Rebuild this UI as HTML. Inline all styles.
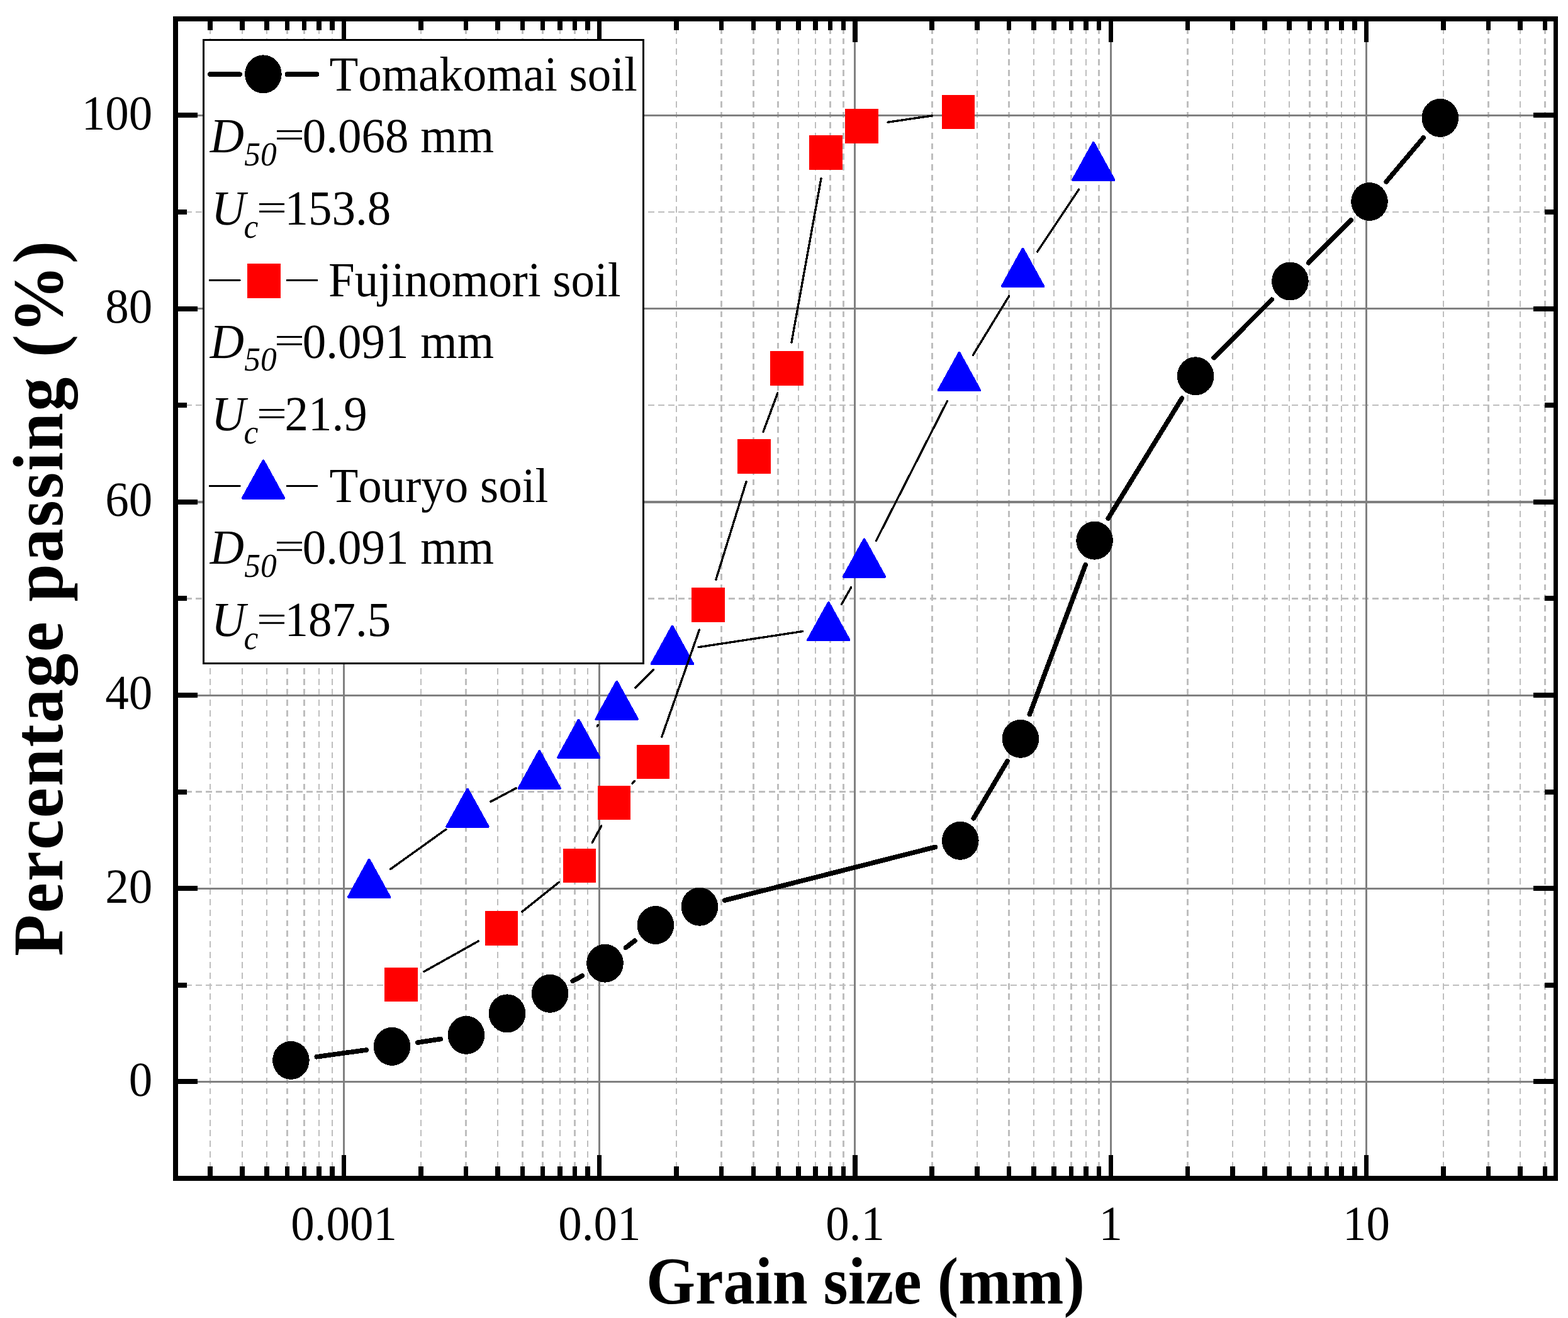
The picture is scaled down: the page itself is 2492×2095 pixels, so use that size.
<!DOCTYPE html>
<html lang="en">
<head>
<meta charset="utf-8">
<title>Grain size distribution</title>
<style>
html,body{margin:0;padding:0;background:#fff;}
body{width:2492px;height:2095px;overflow:hidden;}
svg{display:block;}
svg text{font-family:"Liberation Serif",serif;fill:#000;font-kerning:none;font-variant-ligatures:none;text-rendering:geometricPrecision;white-space:pre;}
</style>
</head>
<body>
<svg width="2492" height="2095" viewBox="0 0 2492 2095">
<rect width="2492" height="2095" fill="#fff"/>
<g id="grid-minor" fill="none" stroke="#bebebe" shape-rendering="crispEdges">
<line x1="334.08" y1="1873" x2="334.08" y2="30" stroke="#bebebe" stroke-width="2.5" stroke-dasharray="9.8 6.89"/>
<line x1="384.84" y1="1873" x2="384.84" y2="30" stroke="#bebebe" stroke-width="2.5" stroke-dasharray="9.8 6.89"/>
<line x1="424.21" y1="1873" x2="424.21" y2="30" stroke="#bebebe" stroke-width="2.5" stroke-dasharray="9.8 6.89"/>
<line x1="456.37" y1="1873" x2="456.37" y2="30" stroke="#bebebe" stroke-width="2.5" stroke-dasharray="9.8 6.89"/>
<line x1="483.57" y1="1873" x2="483.57" y2="30" stroke="#bebebe" stroke-width="2.5" stroke-dasharray="9.8 6.89"/>
<line x1="507.13" y1="1873" x2="507.13" y2="30" stroke="#bebebe" stroke-width="2.5" stroke-dasharray="9.8 6.89"/>
<line x1="527.91" y1="1873" x2="527.91" y2="30" stroke="#bebebe" stroke-width="2.5" stroke-dasharray="9.8 6.89"/>
<line x1="668.79" y1="1873" x2="668.79" y2="30" stroke="#bebebe" stroke-width="2.5" stroke-dasharray="9.8 6.89"/>
<line x1="740.33" y1="1873" x2="740.33" y2="30" stroke="#bebebe" stroke-width="2.5" stroke-dasharray="9.8 6.89"/>
<line x1="791.09" y1="1873" x2="791.09" y2="30" stroke="#bebebe" stroke-width="2.5" stroke-dasharray="9.8 6.89"/>
<line x1="830.46" y1="1873" x2="830.46" y2="30" stroke="#bebebe" stroke-width="2.5" stroke-dasharray="9.8 6.89"/>
<line x1="862.62" y1="1873" x2="862.62" y2="30" stroke="#bebebe" stroke-width="2.5" stroke-dasharray="9.8 6.89"/>
<line x1="889.82" y1="1873" x2="889.82" y2="30" stroke="#bebebe" stroke-width="2.5" stroke-dasharray="9.8 6.89"/>
<line x1="913.38" y1="1873" x2="913.38" y2="30" stroke="#bebebe" stroke-width="2.5" stroke-dasharray="9.8 6.89"/>
<line x1="934.16" y1="1873" x2="934.16" y2="30" stroke="#bebebe" stroke-width="2.5" stroke-dasharray="9.8 6.89"/>
<line x1="1075.04" y1="1873" x2="1075.04" y2="30" stroke="#bebebe" stroke-width="2.5" stroke-dasharray="9.8 6.89"/>
<line x1="1146.58" y1="1873" x2="1146.58" y2="30" stroke="#bebebe" stroke-width="2.5" stroke-dasharray="9.8 6.89"/>
<line x1="1197.34" y1="1873" x2="1197.34" y2="30" stroke="#bebebe" stroke-width="2.5" stroke-dasharray="9.8 6.89"/>
<line x1="1236.71" y1="1873" x2="1236.71" y2="30" stroke="#bebebe" stroke-width="2.5" stroke-dasharray="9.8 6.89"/>
<line x1="1268.87" y1="1873" x2="1268.87" y2="30" stroke="#bebebe" stroke-width="2.5" stroke-dasharray="9.8 6.89"/>
<line x1="1296.07" y1="1873" x2="1296.07" y2="30" stroke="#bebebe" stroke-width="2.5" stroke-dasharray="9.8 6.89"/>
<line x1="1319.63" y1="1873" x2="1319.63" y2="30" stroke="#bebebe" stroke-width="2.5" stroke-dasharray="9.8 6.89"/>
<line x1="1340.41" y1="1873" x2="1340.41" y2="30" stroke="#bebebe" stroke-width="2.5" stroke-dasharray="9.8 6.89"/>
<line x1="1481.29" y1="1873" x2="1481.29" y2="30" stroke="#bebebe" stroke-width="2.5" stroke-dasharray="9.8 6.89"/>
<line x1="1552.83" y1="1873" x2="1552.83" y2="30" stroke="#bebebe" stroke-width="2.5" stroke-dasharray="9.8 6.89"/>
<line x1="1603.59" y1="1873" x2="1603.59" y2="30" stroke="#bebebe" stroke-width="2.5" stroke-dasharray="9.8 6.89"/>
<line x1="1642.96" y1="1873" x2="1642.96" y2="30" stroke="#bebebe" stroke-width="2.5" stroke-dasharray="9.8 6.89"/>
<line x1="1675.12" y1="1873" x2="1675.12" y2="30" stroke="#bebebe" stroke-width="2.5" stroke-dasharray="9.8 6.89"/>
<line x1="1702.32" y1="1873" x2="1702.32" y2="30" stroke="#bebebe" stroke-width="2.5" stroke-dasharray="9.8 6.89"/>
<line x1="1725.88" y1="1873" x2="1725.88" y2="30" stroke="#bebebe" stroke-width="2.5" stroke-dasharray="9.8 6.89"/>
<line x1="1746.66" y1="1873" x2="1746.66" y2="30" stroke="#bebebe" stroke-width="2.5" stroke-dasharray="9.8 6.89"/>
<line x1="1887.54" y1="1873" x2="1887.54" y2="30" stroke="#bebebe" stroke-width="2.5" stroke-dasharray="9.8 6.89"/>
<line x1="1959.08" y1="1873" x2="1959.08" y2="30" stroke="#bebebe" stroke-width="2.5" stroke-dasharray="9.8 6.89"/>
<line x1="2009.84" y1="1873" x2="2009.84" y2="30" stroke="#bebebe" stroke-width="2.5" stroke-dasharray="9.8 6.89"/>
<line x1="2049.21" y1="1873" x2="2049.21" y2="30" stroke="#bebebe" stroke-width="2.5" stroke-dasharray="9.8 6.89"/>
<line x1="2081.37" y1="1873" x2="2081.37" y2="30" stroke="#bebebe" stroke-width="2.5" stroke-dasharray="9.8 6.89"/>
<line x1="2108.57" y1="1873" x2="2108.57" y2="30" stroke="#bebebe" stroke-width="2.5" stroke-dasharray="9.8 6.89"/>
<line x1="2132.13" y1="1873" x2="2132.13" y2="30" stroke="#bebebe" stroke-width="2.5" stroke-dasharray="9.8 6.89"/>
<line x1="2152.91" y1="1873" x2="2152.91" y2="30" stroke="#bebebe" stroke-width="2.5" stroke-dasharray="9.8 6.89"/>
<line x1="2293.79" y1="1873" x2="2293.79" y2="30" stroke="#bebebe" stroke-width="2.5" stroke-dasharray="9.8 6.89"/>
<line x1="2365.33" y1="1873" x2="2365.33" y2="30" stroke="#bebebe" stroke-width="2.5" stroke-dasharray="9.8 6.89"/>
<line x1="2416.09" y1="1873" x2="2416.09" y2="30" stroke="#bebebe" stroke-width="2.5" stroke-dasharray="9.8 6.89"/>
<line x1="2455.46" y1="1873" x2="2455.46" y2="30" stroke="#bebebe" stroke-width="2.5" stroke-dasharray="9.8 6.89"/>
<line x1="279" y1="1565.8" x2="2472.5" y2="1565.8" stroke="#bebebe" stroke-width="2.5" stroke-dasharray="10 5.986"/>
<line x1="279" y1="1258.6" x2="2472.5" y2="1258.6" stroke="#bebebe" stroke-width="2.5" stroke-dasharray="10 5.986"/>
<line x1="279" y1="951.4" x2="2472.5" y2="951.4" stroke="#bebebe" stroke-width="2.5" stroke-dasharray="10 5.986"/>
<line x1="279" y1="644.2" x2="2472.5" y2="644.2" stroke="#bebebe" stroke-width="2.5" stroke-dasharray="10 5.986"/>
<line x1="279" y1="337" x2="2472.5" y2="337" stroke="#bebebe" stroke-width="2.5" stroke-dasharray="10 5.986"/>
</g>
<g id="grid-major" fill="none" shape-rendering="crispEdges">
<rect x="545" y="30" width="3" height="1843" fill="#808080"/>
<rect x="951" y="30" width="3" height="1843" fill="#808080"/>
<rect x="1357" y="30" width="3" height="1843" fill="#808080"/>
<rect x="1764" y="30" width="3" height="1843" fill="#808080"/>
<rect x="2170" y="30" width="3" height="1843" fill="#808080"/>
<rect x="279" y="1718" width="2193.5" height="3" fill="#808080"/>
<rect x="279" y="1411" width="2193.5" height="3" fill="#808080"/>
<rect x="279" y="1104" width="2193.5" height="3" fill="#808080"/>
<rect x="279" y="796" width="2193.5" height="4" fill="#808080"/>
<rect x="279" y="489" width="2193.5" height="3" fill="#808080"/>
<rect x="279" y="182" width="2193.5" height="3" fill="#808080"/>
</g>
<g id="series-touryo" shape-rendering="crispEdges">
<line x1="620.74" y1="1381.43" x2="708.86" y2="1318.27" stroke="#000" stroke-width="3.4" stroke-linecap="round"/>
<line x1="780.1" y1="1274.11" x2="820.1" y2="1252.89" stroke="#000" stroke-width="3.4" stroke-linecap="round"/>
<line x1="949.25" y1="1154.06" x2="950.65" y2="1152.64" stroke="#000" stroke-width="3.4" stroke-linecap="round"/>
<line x1="1009.98" y1="1093.19" x2="1038.72" y2="1064.61" stroke="#000" stroke-width="3.4" stroke-linecap="round"/>
<line x1="1110.02" y1="1028.7" x2="1275.28" y2="1003.6" stroke="#000" stroke-width="3.4" stroke-linecap="round"/>
<line x1="1337.42" y1="960.71" x2="1352.88" y2="933.29" stroke="#000" stroke-width="3.4" stroke-linecap="round"/>
<line x1="1392.56" y1="859.27" x2="1505.44" y2="637.63" stroke="#000" stroke-width="3.4" stroke-linecap="round"/>
<line x1="1546.4" y1="564.36" x2="1603.6" y2="470.74" stroke="#000" stroke-width="3.4" stroke-linecap="round"/>
<line x1="1648.76" y1="399.93" x2="1714.54" y2="301.07" stroke="#000" stroke-width="3.4" stroke-linecap="round"/>
<polygon points="586.6,1366.68 553.91,1426 619.29,1426" fill="#0000ff" stroke="#0000ff" stroke-width="4" stroke-linejoin="round"/>
<polygon points="743,1254.58 710.31,1313.9 775.69,1313.9" fill="#0000ff" stroke="#0000ff" stroke-width="4" stroke-linejoin="round"/>
<polygon points="857.2,1193.98 824.51,1253.3 889.89,1253.3" fill="#0000ff" stroke="#0000ff" stroke-width="4" stroke-linejoin="round"/>
<polygon points="919.7,1144.68 887.01,1204 952.39,1204" fill="#0000ff" stroke="#0000ff" stroke-width="4" stroke-linejoin="round"/>
<polygon points="980.2,1083.58 947.51,1142.9 1012.89,1142.9" fill="#0000ff" stroke="#0000ff" stroke-width="4" stroke-linejoin="round"/>
<polygon points="1068.5,995.78 1035.81,1055.1 1101.19,1055.1" fill="#0000ff" stroke="#0000ff" stroke-width="4" stroke-linejoin="round"/>
<polygon points="1316.8,958.08 1284.11,1017.4 1349.49,1017.4" fill="#0000ff" stroke="#0000ff" stroke-width="4" stroke-linejoin="round"/>
<polygon points="1373.5,857.48 1340.81,916.8 1406.19,916.8" fill="#0000ff" stroke="#0000ff" stroke-width="4" stroke-linejoin="round"/>
<polygon points="1524.5,560.98 1491.81,620.3 1557.19,620.3" fill="#0000ff" stroke="#0000ff" stroke-width="4" stroke-linejoin="round"/>
<polygon points="1625.5,395.68 1592.81,455 1658.19,455" fill="#0000ff" stroke="#0000ff" stroke-width="4" stroke-linejoin="round"/>
<polygon points="1737.8,226.88 1705.11,286.2 1770.49,286.2" fill="#0000ff" stroke="#0000ff" stroke-width="4" stroke-linejoin="round"/>
</g>
<g id="series-fujinomori" shape-rendering="crispEdges">
<line x1="673.94" y1="1544.37" x2="760.36" y2="1495.93" stroke="#000" stroke-width="3.4" stroke-linecap="round"/>
<line x1="829.81" y1="1449.18" x2="888.29" y2="1402.42" stroke="#000" stroke-width="3.4" stroke-linecap="round"/>
<line x1="941.22" y1="1339.33" x2="955.78" y2="1312.67" stroke="#000" stroke-width="3.4" stroke-linecap="round"/>
<line x1="1004.89" y1="1245.41" x2="1008.81" y2="1241.29" stroke="#000" stroke-width="3.4" stroke-linecap="round"/>
<line x1="1051.71" y1="1171.27" x2="1111.49" y2="1001.03" stroke="#000" stroke-width="3.4" stroke-linecap="round"/>
<line x1="1137.83" y1="921.28" x2="1186.07" y2="765.52" stroke="#000" stroke-width="3.4" stroke-linecap="round"/>
<line x1="1213.12" y1="686.03" x2="1235.88" y2="624.77" stroke="#000" stroke-width="3.4" stroke-linecap="round"/>
<line x1="1257.97" y1="544.07" x2="1305.03" y2="283.63" stroke="#000" stroke-width="3.4" stroke-linecap="round"/>
<line x1="1411.06" y1="194.23" x2="1481.34" y2="183.97" stroke="#000" stroke-width="3.4" stroke-linecap="round"/>
<rect x="611" y="1537.7" width="52.6" height="54.4" fill="#ff0000"/>
<rect x="770.7" y="1448.2" width="52.6" height="54.4" fill="#ff0000"/>
<rect x="894.8" y="1349" width="52.6" height="54.4" fill="#ff0000"/>
<rect x="949.6" y="1248.6" width="52.6" height="54.4" fill="#ff0000"/>
<rect x="1011.5" y="1183.7" width="52.6" height="54.4" fill="#ff0000"/>
<rect x="1099.1" y="934.2" width="52.6" height="54.4" fill="#ff0000"/>
<rect x="1172.2" y="698.2" width="52.6" height="54.4" fill="#ff0000"/>
<rect x="1224.2" y="558.2" width="52.6" height="54.4" fill="#ff0000"/>
<rect x="1286.2" y="215.1" width="52.6" height="54.4" fill="#ff0000"/>
<rect x="1343.2" y="173.1" width="52.6" height="54.4" fill="#ff0000"/>
<rect x="1496.6" y="150.7" width="52.6" height="54.4" fill="#ff0000"/>
</g>
<g id="series-tomakomai" shape-rendering="crispEdges">
<line x1="503.32" y1="1679.79" x2="582.08" y2="1669.01" stroke="#000" stroke-width="7.6" stroke-linecap="round"/>
<line x1="663.82" y1="1657.14" x2="700.18" y2="1651.56" stroke="#000" stroke-width="7.6" stroke-linecap="round"/>
<line x1="910.28" y1="1559.39" x2="925.32" y2="1551.11" stroke="#000" stroke-width="7.6" stroke-linecap="round"/>
<line x1="994.46" y1="1506.32" x2="1008.94" y2="1495.38" stroke="#000" stroke-width="7.6" stroke-linecap="round"/>
<line x1="1151.94" y1="1431.07" x2="1486.26" y2="1346.43" stroke="#000" stroke-width="7.6" stroke-linecap="round"/>
<line x1="1547.29" y1="1300.73" x2="1600.91" y2="1209.87" stroke="#000" stroke-width="7.6" stroke-linecap="round"/>
<line x1="1636.35" y1="1135.61" x2="1725.15" y2="897.89" stroke="#000" stroke-width="7.6" stroke-linecap="round"/>
<line x1="1761.21" y1="824" x2="1878.49" y2="633" stroke="#000" stroke-width="7.6" stroke-linecap="round"/>
<line x1="1929.25" y1="568.55" x2="2021.25" y2="476.25" stroke="#000" stroke-width="7.6" stroke-linecap="round"/>
<line x1="2079.56" y1="417.75" x2="2147.34" y2="349.75" stroke="#000" stroke-width="7.6" stroke-linecap="round"/>
<line x1="2203.13" y1="288.93" x2="2262.17" y2="218.97" stroke="#000" stroke-width="7.6" stroke-linecap="round"/>
<ellipse cx="462.4" cy="1685.4" rx="29.3" ry="30.5" fill="#000000"/>
<ellipse cx="623" cy="1663.4" rx="29.3" ry="30.5" fill="#000000"/>
<ellipse cx="741" cy="1645.3" rx="29.3" ry="30.5" fill="#000000"/>
<ellipse cx="806" cy="1610.9" rx="29.3" ry="30.5" fill="#000000"/>
<ellipse cx="874.1" cy="1579.3" rx="29.3" ry="30.5" fill="#000000"/>
<ellipse cx="961.5" cy="1531.2" rx="29.3" ry="30.5" fill="#000000"/>
<ellipse cx="1041.9" cy="1470.5" rx="29.3" ry="30.5" fill="#000000"/>
<ellipse cx="1111.9" cy="1441.2" rx="29.3" ry="30.5" fill="#000000"/>
<ellipse cx="1526.3" cy="1336.3" rx="29.3" ry="30.5" fill="#000000"/>
<ellipse cx="1621.9" cy="1174.3" rx="29.3" ry="30.5" fill="#000000"/>
<ellipse cx="1739.6" cy="859.2" rx="29.3" ry="30.5" fill="#000000"/>
<ellipse cx="1900.1" cy="597.8" rx="29.3" ry="30.5" fill="#000000"/>
<ellipse cx="2050.4" cy="447" rx="29.3" ry="30.5" fill="#000000"/>
<ellipse cx="2176.5" cy="320.5" rx="29.3" ry="30.5" fill="#000000"/>
<ellipse cx="2288.8" cy="187.4" rx="29.3" ry="30.5" fill="#000000"/>
</g>
<g id="ticks" fill="#000" shape-rendering="crispEdges">
<rect x="330.28" y="1854" width="7.6" height="18" fill="#000"/>
<rect x="330.28" y="31" width="7.6" height="17" fill="#000"/>
<rect x="381.04" y="1854" width="7.6" height="18" fill="#000"/>
<rect x="381.04" y="31" width="7.6" height="17" fill="#000"/>
<rect x="420.41" y="1854" width="7.6" height="18" fill="#000"/>
<rect x="420.41" y="31" width="7.6" height="17" fill="#000"/>
<rect x="452.57" y="1854" width="7.6" height="18" fill="#000"/>
<rect x="452.57" y="31" width="7.6" height="17" fill="#000"/>
<rect x="479.77" y="1854" width="7.6" height="18" fill="#000"/>
<rect x="479.77" y="31" width="7.6" height="17" fill="#000"/>
<rect x="503.33" y="1854" width="7.6" height="18" fill="#000"/>
<rect x="503.33" y="31" width="7.6" height="17" fill="#000"/>
<rect x="524.11" y="1854" width="7.6" height="18" fill="#000"/>
<rect x="524.11" y="31" width="7.6" height="17" fill="#000"/>
<rect x="664.99" y="1854" width="7.6" height="18" fill="#000"/>
<rect x="664.99" y="31" width="7.6" height="17" fill="#000"/>
<rect x="736.53" y="1854" width="7.6" height="18" fill="#000"/>
<rect x="736.53" y="31" width="7.6" height="17" fill="#000"/>
<rect x="787.29" y="1854" width="7.6" height="18" fill="#000"/>
<rect x="787.29" y="31" width="7.6" height="17" fill="#000"/>
<rect x="826.66" y="1854" width="7.6" height="18" fill="#000"/>
<rect x="826.66" y="31" width="7.6" height="17" fill="#000"/>
<rect x="858.82" y="1854" width="7.6" height="18" fill="#000"/>
<rect x="858.82" y="31" width="7.6" height="17" fill="#000"/>
<rect x="886.02" y="1854" width="7.6" height="18" fill="#000"/>
<rect x="886.02" y="31" width="7.6" height="17" fill="#000"/>
<rect x="909.58" y="1854" width="7.6" height="18" fill="#000"/>
<rect x="909.58" y="31" width="7.6" height="17" fill="#000"/>
<rect x="930.36" y="1854" width="7.6" height="18" fill="#000"/>
<rect x="930.36" y="31" width="7.6" height="17" fill="#000"/>
<rect x="1071.24" y="1854" width="7.6" height="18" fill="#000"/>
<rect x="1071.24" y="31" width="7.6" height="17" fill="#000"/>
<rect x="1142.78" y="1854" width="7.6" height="18" fill="#000"/>
<rect x="1142.78" y="31" width="7.6" height="17" fill="#000"/>
<rect x="1193.54" y="1854" width="7.6" height="18" fill="#000"/>
<rect x="1193.54" y="31" width="7.6" height="17" fill="#000"/>
<rect x="1232.91" y="1854" width="7.6" height="18" fill="#000"/>
<rect x="1232.91" y="31" width="7.6" height="17" fill="#000"/>
<rect x="1265.07" y="1854" width="7.6" height="18" fill="#000"/>
<rect x="1265.07" y="31" width="7.6" height="17" fill="#000"/>
<rect x="1292.27" y="1854" width="7.6" height="18" fill="#000"/>
<rect x="1292.27" y="31" width="7.6" height="17" fill="#000"/>
<rect x="1315.83" y="1854" width="7.6" height="18" fill="#000"/>
<rect x="1315.83" y="31" width="7.6" height="17" fill="#000"/>
<rect x="1336.61" y="1854" width="7.6" height="18" fill="#000"/>
<rect x="1336.61" y="31" width="7.6" height="17" fill="#000"/>
<rect x="1477.49" y="1854" width="7.6" height="18" fill="#000"/>
<rect x="1477.49" y="31" width="7.6" height="17" fill="#000"/>
<rect x="1549.03" y="1854" width="7.6" height="18" fill="#000"/>
<rect x="1549.03" y="31" width="7.6" height="17" fill="#000"/>
<rect x="1599.79" y="1854" width="7.6" height="18" fill="#000"/>
<rect x="1599.79" y="31" width="7.6" height="17" fill="#000"/>
<rect x="1639.16" y="1854" width="7.6" height="18" fill="#000"/>
<rect x="1639.16" y="31" width="7.6" height="17" fill="#000"/>
<rect x="1671.32" y="1854" width="7.6" height="18" fill="#000"/>
<rect x="1671.32" y="31" width="7.6" height="17" fill="#000"/>
<rect x="1698.52" y="1854" width="7.6" height="18" fill="#000"/>
<rect x="1698.52" y="31" width="7.6" height="17" fill="#000"/>
<rect x="1722.08" y="1854" width="7.6" height="18" fill="#000"/>
<rect x="1722.08" y="31" width="7.6" height="17" fill="#000"/>
<rect x="1742.86" y="1854" width="7.6" height="18" fill="#000"/>
<rect x="1742.86" y="31" width="7.6" height="17" fill="#000"/>
<rect x="1883.74" y="1854" width="7.6" height="18" fill="#000"/>
<rect x="1883.74" y="31" width="7.6" height="17" fill="#000"/>
<rect x="1955.28" y="1854" width="7.6" height="18" fill="#000"/>
<rect x="1955.28" y="31" width="7.6" height="17" fill="#000"/>
<rect x="2006.04" y="1854" width="7.6" height="18" fill="#000"/>
<rect x="2006.04" y="31" width="7.6" height="17" fill="#000"/>
<rect x="2045.41" y="1854" width="7.6" height="18" fill="#000"/>
<rect x="2045.41" y="31" width="7.6" height="17" fill="#000"/>
<rect x="2077.57" y="1854" width="7.6" height="18" fill="#000"/>
<rect x="2077.57" y="31" width="7.6" height="17" fill="#000"/>
<rect x="2104.77" y="1854" width="7.6" height="18" fill="#000"/>
<rect x="2104.77" y="31" width="7.6" height="17" fill="#000"/>
<rect x="2128.33" y="1854" width="7.6" height="18" fill="#000"/>
<rect x="2128.33" y="31" width="7.6" height="17" fill="#000"/>
<rect x="2149.11" y="1854" width="7.6" height="18" fill="#000"/>
<rect x="2149.11" y="31" width="7.6" height="17" fill="#000"/>
<rect x="2289.99" y="1854" width="7.6" height="18" fill="#000"/>
<rect x="2289.99" y="31" width="7.6" height="17" fill="#000"/>
<rect x="2361.53" y="1854" width="7.6" height="18" fill="#000"/>
<rect x="2361.53" y="31" width="7.6" height="17" fill="#000"/>
<rect x="2412.29" y="1854" width="7.6" height="18" fill="#000"/>
<rect x="2412.29" y="31" width="7.6" height="17" fill="#000"/>
<rect x="2451.66" y="1854" width="7.6" height="18" fill="#000"/>
<rect x="2451.66" y="31" width="7.6" height="17" fill="#000"/>
<rect x="543" y="1836" width="7" height="36" fill="#000"/>
<rect x="543" y="31" width="7" height="36" fill="#000"/>
<rect x="949" y="1836" width="7" height="36" fill="#000"/>
<rect x="949" y="31" width="7" height="36" fill="#000"/>
<rect x="1355" y="1836" width="8" height="36" fill="#000"/>
<rect x="1355" y="31" width="8" height="36" fill="#000"/>
<rect x="1762" y="1836" width="7" height="36" fill="#000"/>
<rect x="1762" y="31" width="7" height="36" fill="#000"/>
<rect x="2168" y="1836" width="7" height="36" fill="#000"/>
<rect x="2168" y="31" width="7" height="36" fill="#000"/>
<rect x="280" y="1561.8" width="17" height="8" fill="#000"/>
<rect x="2454.5" y="1561.8" width="17" height="8" fill="#000"/>
<rect x="280" y="1254.6" width="17" height="8" fill="#000"/>
<rect x="2454.5" y="1254.6" width="17" height="8" fill="#000"/>
<rect x="280" y="947.4" width="17" height="8" fill="#000"/>
<rect x="2454.5" y="947.4" width="17" height="8" fill="#000"/>
<rect x="280" y="640.2" width="17" height="8" fill="#000"/>
<rect x="2454.5" y="640.2" width="17" height="8" fill="#000"/>
<rect x="280" y="333" width="17" height="8" fill="#000"/>
<rect x="2454.5" y="333" width="17" height="8" fill="#000"/>
<rect x="280" y="1715" width="34" height="8" fill="#000"/>
<rect x="2437" y="1715" width="34" height="8" fill="#000"/>
<rect x="280" y="1408" width="34" height="8" fill="#000"/>
<rect x="2437" y="1408" width="34" height="8" fill="#000"/>
<rect x="280" y="1101" width="34" height="8" fill="#000"/>
<rect x="2437" y="1101" width="34" height="8" fill="#000"/>
<rect x="280" y="794" width="34" height="8" fill="#000"/>
<rect x="2437" y="794" width="34" height="8" fill="#000"/>
<rect x="280" y="487" width="34" height="8" fill="#000"/>
<rect x="2437" y="487" width="34" height="8" fill="#000"/>
<rect x="280" y="179" width="34" height="8" fill="#000"/>
<rect x="2437" y="179" width="34" height="8" fill="#000"/>
</g>
<path id="frame" shape-rendering="crispEdges" d="M275 26H2476V1877H275Z M283 34V1869H2469V34Z" fill="#000" fill-rule="evenodd"/>
<g id="legend" shape-rendering="crispEdges">
<rect x="323.5" y="63.5" width="699" height="991" fill="#fff" stroke="#000" stroke-width="3"/>
<line x1="333.7" y1="118.1" x2="381" y2="118.1" stroke="#000" stroke-width="7.6" stroke-linecap="round"/>
<line x1="456.3" y1="118.1" x2="503.5" y2="118.1" stroke="#000" stroke-width="7.6" stroke-linecap="round"/>
<ellipse cx="418.4" cy="117.9" rx="29.3" ry="30.5" fill="#000000"/>
<text transform="translate(523.4 144.1) scale(1 1.04)" font-size="75">Tomakomai soil</text>
<text transform="translate(0 241.8) scale(1 1.04)" font-size="75"><tspan x="333.85" font-style="italic">D</tspan><tspan x="388.2" dy="19.9" font-style="italic" font-size="51.5">50</tspan><tspan x="435.8" dy="-27.02" font-size="56.97" textLength="48.47" lengthAdjust="spacingAndGlyphs">=</tspan><tspan x="480.8" dy="7.12">0.068 mm</tspan></text>
<text transform="translate(0 357.3) scale(1 1.04)" font-size="75"><tspan x="335.9" font-style="italic">U</tspan><tspan x="387.4" dy="19.9" font-style="italic" font-size="51.5">c</tspan><tspan x="407.8" dy="-27.02" font-size="56.97" textLength="48.47" lengthAdjust="spacingAndGlyphs">=</tspan><tspan x="452.5" dy="7.12">153.8</tspan></text>
<line x1="333.7" y1="445.5" x2="381" y2="445.5" stroke="#000" stroke-width="3.4" stroke-linecap="round"/>
<line x1="456.3" y1="445.5" x2="503.5" y2="445.5" stroke="#000" stroke-width="3.4" stroke-linecap="round"/>
<rect x="393.2" y="419.2" width="52.6" height="54.4" fill="#ff0000"/>
<text transform="translate(522 471.1) scale(1 1.04)" font-size="75">Fujinomori soil</text>
<text transform="translate(0 568.6) scale(1 1.04)" font-size="75"><tspan x="333.85" font-style="italic">D</tspan><tspan x="388.2" dy="19.9" font-style="italic" font-size="51.5">50</tspan><tspan x="435.8" dy="-27.02" font-size="56.97" textLength="48.47" lengthAdjust="spacingAndGlyphs">=</tspan><tspan x="480.8" dy="7.12">0.091 mm</tspan></text>
<text transform="translate(0 684.3) scale(1 1.04)" font-size="75"><tspan x="335.9" font-style="italic">U</tspan><tspan x="387.4" dy="19.9" font-style="italic" font-size="51.5">c</tspan><tspan x="407.8" dy="-27.02" font-size="56.97" textLength="48.47" lengthAdjust="spacingAndGlyphs">=</tspan><tspan x="452.5" dy="7.12">21.9</tspan></text>
<line x1="333.7" y1="772.5" x2="381" y2="772.5" stroke="#000" stroke-width="3.4" stroke-linecap="round"/>
<line x1="456.3" y1="772.5" x2="503.5" y2="772.5" stroke="#000" stroke-width="3.4" stroke-linecap="round"/>
<polygon points="418.5,732.48 385.81,791.8 451.19,791.8" fill="#0000ff" stroke="#0000ff" stroke-width="4" stroke-linejoin="round"/>
<text transform="translate(523.4 798.1) scale(1 1.04)" font-size="75">Touryo soil</text>
<text transform="translate(0 895.8) scale(1 1.04)" font-size="75"><tspan x="333.85" font-style="italic">D</tspan><tspan x="388.2" dy="19.9" font-style="italic" font-size="51.5">50</tspan><tspan x="435.8" dy="-27.02" font-size="56.97" textLength="48.47" lengthAdjust="spacingAndGlyphs">=</tspan><tspan x="480.8" dy="7.12">0.091 mm</tspan></text>
<text transform="translate(0 1011.3) scale(1 1.04)" font-size="75"><tspan x="335.9" font-style="italic">U</tspan><tspan x="387.4" dy="19.9" font-style="italic" font-size="51.5">c</tspan><tspan x="407.8" dy="-27.02" font-size="56.97" textLength="48.47" lengthAdjust="spacingAndGlyphs">=</tspan><tspan x="452.5" dy="7.12">187.5</tspan></text>
</g>
<g id="xticklabels" text-anchor="middle">
<text transform="translate(546.5 1971.3) scale(1 1.04)" font-size="75">0.001</text>
<text transform="translate(952.75 1971.3) scale(1 1.04)" font-size="75">0.01</text>
<text transform="translate(1359 1971.3) scale(1 1.04)" font-size="75">0.1</text>
<text transform="translate(1765.25 1971.3) scale(1 1.04)" font-size="75">1</text>
<text transform="translate(2171.5 1971.3) scale(1 1.04)" font-size="75">10</text>
</g>
<g id="yticklabels" text-anchor="end">
<text transform="translate(242.2 1741.8) scale(1 1.04)" font-size="75">0</text>
<text transform="translate(242.2 1434.6) scale(1 1.04)" font-size="75">20</text>
<text transform="translate(242.2 1127.4) scale(1 1.04)" font-size="75">40</text>
<text transform="translate(242.2 820.2) scale(1 1.04)" font-size="75">60</text>
<text transform="translate(242.2 513) scale(1 1.04)" font-size="75">80</text>
<text transform="translate(242.2 205.8) scale(1 1.04)" font-size="75">100</text>
</g>
<text id="xtitle" transform="translate(1026.9 2071.8) scale(1 1.06)" font-size="100.4" font-weight="bold">Grain size (mm)</text>
<text id="ytitle" transform="translate(99 1519.75) rotate(-90) scale(1 1.05)" font-size="108" font-weight="bold" letter-spacing="2.42">Percentage passing (%)</text>
</svg>
</body>
</html>
